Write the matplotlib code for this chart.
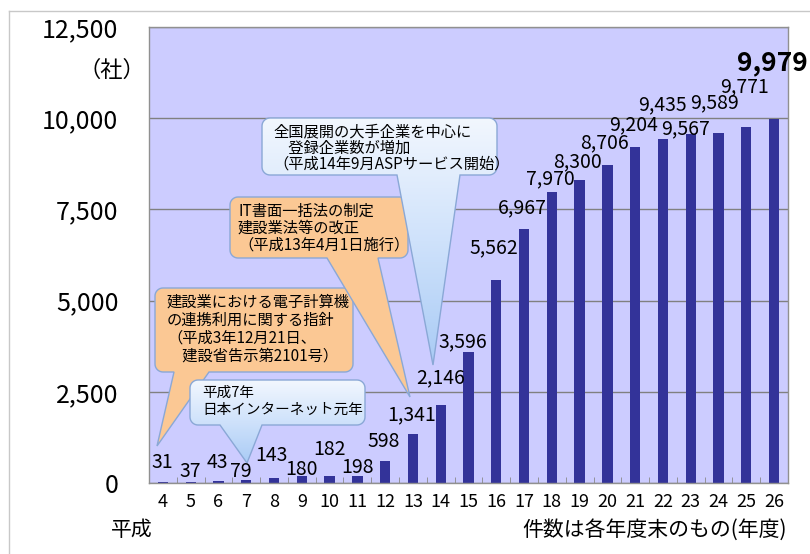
import numpy as np
import matplotlib
matplotlib.use("Agg")
import matplotlib.pyplot as plt
from matplotlib.patches import Polygon
from matplotlib.lines import Line2D
from matplotlib.colors import LinearSegmentedColormap

plt.rcParams['font.family'] = ['Noto Sans CJK JP', 'DejaVu Sans']

# data: 平成4年度 .. 平成26年度
years = [4, 5, 6, 7, 8, 9, 10, 11, 12, 13, 14, 15, 16, 17, 18, 19, 20, 21, 22, 23, 24, 25, 26]
counts = [31, 37, 43, 79, 143, 180, 182, 198, 598, 1341, 2146, 3596, 5562, 6967,
          7970, 8300, 8706, 9204, 9435, 9567, 9589, 9771, 9979]

# where each value label sits relative to the top of its bar (pixels)
label_dx = [-1, 0, -1, -5, -3, 0, 0, 0, -1, -1, 0, -6, -2, -2, -1, -2, -3, -2, -1, -5, -4, -2, -2]
label_dy = [19, 10, 19, 9, 22, 7, 27, 8, 20, 19, 27, 10, 32, 21, 13, 18, 23, 22, 34, 5, 30, 40, 56]

W, H = 810, 554
BG = '#ccccff'
BAR = '#333399'
ORANGE = '#fbc894'
EDGE = '#8aa8d6'


def px(x, y):
    return (x / W, 1 - y / H)


fig = plt.figure(figsize=(W / 100, H / 100), dpi=100)
ax = fig.add_axes([149 / W, 1 - 483 / H, (788 - 149) / W, (483 - 27) / H])
ax.set_facecolor(BG)

x = np.arange(len(years))
ax.bar(x, counts, width=0.37, color=BAR, zorder=2)

ax.set_xlim(-0.5, len(years) - 0.5)
ax.set_ylim(0, 12500)
ax.set_yticks(np.arange(0, 12501, 2500))
ax.set_yticklabels(['{:,}'.format(v) for v in range(0, 12501, 2500)], fontsize=18)
ax.set_xticks(x)
ax.set_xticklabels([str(y) for y in years], fontsize=13)
ax.set_xticks(np.arange(-0.5, len(years), 1), minor=True)
ax.tick_params(axis='y', length=0, pad=22)
ax.tick_params(axis='x', which='major', length=0, pad=7)
ax.tick_params(axis='x', which='minor', direction='in', length=4, color='#888888')
ax.grid(axis='y', color='#808080', linewidth=1, zorder=1)
ax.set_axisbelow(True)
for s in ax.spines.values():
    s.set_color('#909090')
    s.set_linewidth(1)

# value labels
for i, v in enumerate(counts):
    last = i == len(counts) - 1
    ax.annotate('{:,}'.format(v), (x[i], v), xytext=(label_dx[i], label_dy[i]),
                textcoords='offset pixels', ha='center', va='center',
                fontsize=19 if last else 14, fontweight='bold' if last else 'normal',
                zorder=6, annotation_clip=False)


def callout(box, base, tip, face=None, grad=None, r=8):
    x0, y0, x1, y1 = box
    pts = []
    def arc(cx, cy, a0, a1):
        for t in np.linspace(np.radians(a0), np.radians(a1), 10):
            pts.append((cx + r * np.cos(t), cy + r * np.sin(t)))
    arc(x1 - r, y0 + r, -90, 0)
    arc(x1 - r, y1 - r, 0, 90)
    pts.append((base[1], y1))
    pts.append(tip)
    pts.append((base[0], y1))
    arc(x0 + r, y1 - r, 90, 180)
    arc(x0 + r, y0 + r, 180, 270)
    verts = [px(a, b) for a, b in pts]
    if grad is None:
        poly = Polygon(verts, closed=True, facecolor=face, edgecolor=EDGE,
                       linewidth=1, transform=fig.transFigure, zorder=3)
        ax.add_patch(poly)
    else:
        poly = Polygon(verts, closed=True, facecolor='none', edgecolor=EDGE,
                       linewidth=1, transform=fig.transFigure, zorder=4)
        ax.add_patch(poly)
        cmap = LinearSegmentedColormap.from_list('g', grad)
        g = np.linspace(0, 1, 256).reshape(-1, 1)
        ytop = min(y0, tip[1])
        ybot = max(y1, tip[1])
        fx0, fy_top = px(x0, ytop)
        fx1, fy_bot = px(x1, ybot)
        im = ax.imshow(g, cmap=cmap, aspect='auto', transform=fig.transFigure,
                       extent=[fx0, fx1, fy_bot, fy_top], origin='upper', zorder=3)
        im.set_clip_path(poly)


def block(xx, yy, text, size, spacing):
    fx, fy = px(xx, yy)
    ax.text(fx, fy, text, transform=fig.transFigure, fontsize=size,
            ha='left', va='center', multialignment='left',
            linespacing=spacing, zorder=5)


BLUE_GRAD = ['#f2f7fe', '#cfe2fb', '#a9cbf5']

# callout: 平成3年 指針
callout((155, 288, 353, 372), (174, 209), (157, 446), face=ORANGE)
block(167, 329, '建設業における電子計算機\nの連携利用に関する指針\n'
      '（平成3年12月21日、\n　建設省告示第2101号）', 11, 1.08)

# callout: 平成7年
callout((190, 380, 365, 425), (220, 262), (247, 463), grad=BLUE_GRAD)
block(202, 401, '平成7年\n日本インターネット元年', 10.5, 1.25)

# callout: 平成13年
callout((230, 197, 408, 258), (327, 378), (410, 397), face=ORANGE)
block(238, 228, 'IT書面一括法の制定\n建設業法等の改正\n（平成13年4月1日施行）', 11, 0.98)

# callout: 平成14年
callout((262, 118, 497, 175), (397, 460), (433, 365), grad=BLUE_GRAD)
block(273, 148, '全国展開の大手企業を中心に\n　登録企業数が増加\n（平成14年9月ASPサービス開始）',
      11, 0.94)

ax.set_xlim(-0.5, len(years) - 0.5)
ax.set_ylim(0, 12500)

# extra texts outside the plot
fig.text(*px(112, 70), '（社）', fontsize=16, ha='center', va='center')
fig.text(*px(132, 530), '平成', fontsize=15, ha='center', va='center')
fig.text(*px(787, 530), '件数は各年度末のもの(年度)', fontsize=15, ha='right', va='center')

# slide frame
fig.add_artist(Line2D([9 / W, 1], [1 - 11 / H, 1 - 11 / H], color='#c8c8c8', linewidth=1,
                      transform=fig.transFigure))
fig.add_artist(Line2D([9 / W, 9 / W], [0, 1 - 11 / H], color='#c8c8c8', linewidth=1,
                      transform=fig.transFigure))

fig.savefig('out.png', dpi=100)
